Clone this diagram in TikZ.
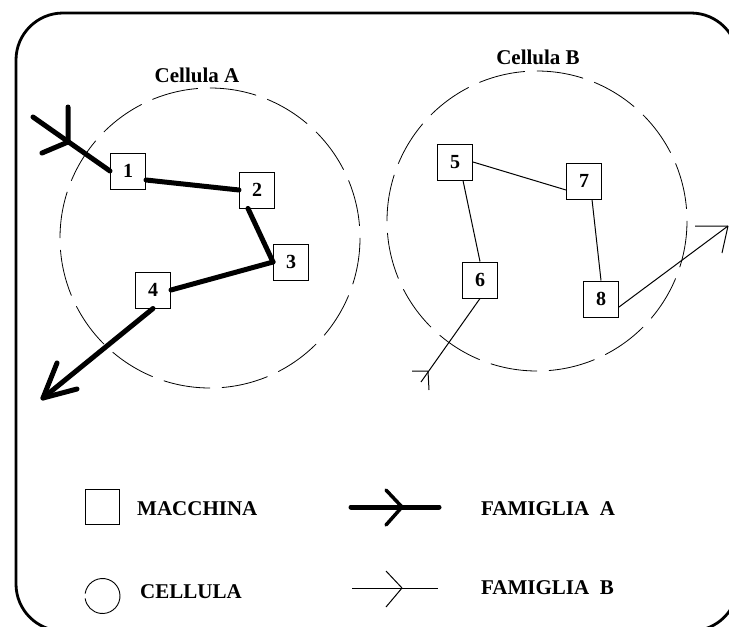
\documentclass[tikz,border=0pt]{standalone}
\usepackage{fontspec}
\setmainfont{Liberation Serif}
\usetikzlibrary{calc}
\begin{document}
\begin{tikzpicture}[x=1pt,y=-1pt,
  machine/.style={draw, line width=1pt, minimum width=35pt, minimum height=36pt, inner sep=0pt, fill=white, font=\fontsize{20}{24}\selectfont\bfseries},
  lbl/.style={font=\fontsize{21}{24}\selectfont\bfseries, inner sep=0pt},
  famA/.style={line width=5pt, line cap=round, line join=round},
  famAbarb/.style={line width=3.5pt, line cap=round},
  famB/.style={line width=1pt},
  cell/.style={line width=0.8pt, dash pattern=on 47pt off 11.9pt},
  frame/.style={line width=2.8pt, rounded corners=47pt}]
\useasboundingbox (0,0) rectangle (729,627);
\draw[frame] (16,13) rectangle (738,631);

% cells
\draw[cell] (210,238) circle[radius=150];
\draw[cell] (537,221) circle[radius=150];
\node[lbl] (cA) at (197,75) {Cellula A};
\node[lbl] (cB) at (538,57) {Cellula B};

% machines
\node[machine] (m1) at (128,171) {1};
\node[machine] (m2) at (257,190) {2};
\node[machine] (m3) at (291,262) {3};
\node[machine] (m4) at (153,290) {4};
\node[machine] (m5) at (455,162) {5};
\node[machine] (m7) at (584,181) {7};
\node[machine] (m6) at (480,280) {6};
\node[machine] (m8) at (601,299) {8};

% free ends
\coordinate (aIn) at (33,117);
\coordinate (aInTip) at (68,142);
\coordinate (aOut) at (43,398);
\coordinate (bIn) at (421,382);
\coordinate (bInTip) at (428,371);
\coordinate (bOut) at (728,226);

% family A
\draw[famA] (aIn) -- (m1.west);
\draw[famA] (aInTip) -- ++(0,-35) (aInTip) -- ++(-26,11);
\draw[famA] ($(m1.east)+(0,9)$) -- (m2.west);
\draw[famA] ($(m2.south)+(-9,0)$) -- (m3.west);
\draw[famA] (m3.west) -- (m4.east);
\draw[famA] (m4.south) -- (aOut);
\draw[famA] (aOut) -- ++(14,-35) (aOut) -- ++(34,-9);

% family B
\draw[famB] (bIn) -- (m6.south);
\draw[famB] (bInTip) -- ++(-16,0) (bInTip) -- ++(1,19);
\draw[famB] (m6.north) -- ($(m5.south)+(8,0)$);
\draw[famB] (m5.east) -- ($(m7.west)+(0,9)$);
\draw[famB] ($(m7.south)+(8,0)$) -- (m8.north);
\draw[famB] ($(m8.east)+(0,8)$) -- (bOut);
\draw[famB] (bOut) -- ++(-33,0) (bOut) -- ++(-6,27);

% legend
\node[draw, line width=1pt, minimum width=34pt, minimum height=35pt, inner sep=0pt] (lsq) at (102,507) {};
\coordinate (lc) at (102.5,596);
\draw[line width=0.9pt] ($(lc)+(188:17.5)$) arc[start angle=188, end angle=532, radius=17.5];

\coordinate (lA1) at (351,507);
\coordinate (lA2) at (439,507);
\coordinate (lAt) at (402,507);
\draw[famA] (lA1) -- (lA2);
\draw[famAbarb] (lAt) -- ++(-16,-17) (lAt) -- ++(-16,18);

\coordinate (lB1) at (352,588);
\coordinate (lB2) at (438,588);
\coordinate (lBt) at (402,588);
\draw[famB] (lB1) -- (lB2);
\draw[famB] (lBt) -- ++(-16,-17) (lBt) -- ++(-16,19);

\node[lbl, anchor=west] (tMac) at (137,509) {MACCHINA};
\node[lbl, anchor=west] (tCel) at (140,592) {CELLULA};
\node[lbl, anchor=west] (tFA) at (481,509) {FAMIGLIA\ \ A};
\node[lbl, anchor=west] (tFB) at (481,588) {FAMIGLIA\ \ B};
\end{tikzpicture}
\end{document}
